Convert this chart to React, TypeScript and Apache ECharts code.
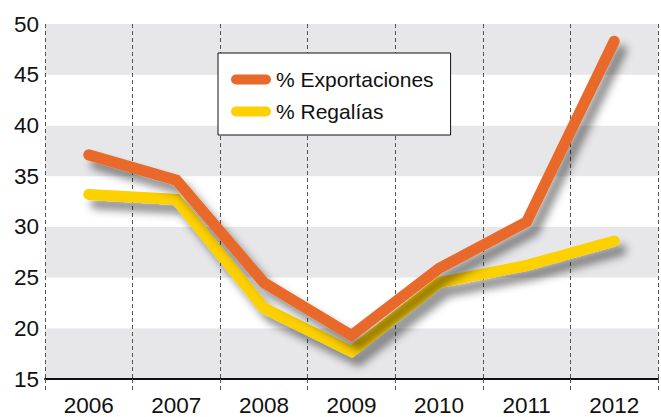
import React, { useEffect, useRef } from "react";
import * as echarts from "echarts";

const years = ["2006", "2007", "2008", "2009", "2010", "2011", "2012"];
const exportaciones = [37.1, 34.6, 24.5, 19.3, 25.9, 30.5, 48.3];
const regalias = [33.2, 32.7, 22.0, 17.7, 24.5, 26.2, 28.6];
const yTicks = { min: 15, max: 50, interval: 5 };

const FONT = "'Liberation Sans', Arial, Helvetica, sans-serif";
const capsule = "path://M5,0 H35 A5,5 0 0 1 35,10 H5 A5,5 0 0 1 5,0 Z";

export default function App() {
  const ref = useRef<HTMLDivElement>(null);
  useEffect(() => {
    if (!ref.current) return;
    const chart = echarts.init(ref.current, undefined, { renderer: "svg" });
    const shadow = {
      shadowColor: "rgba(0,0,0,0.45)",
      shadowBlur: 8,
      shadowOffsetX: 7,
      shadowOffsetY: 9,
    };
    chart.setOption({
      animation: false,
      backgroundColor: "#ffffff",
      grid: { left: 45, right: 3, top: 24, bottom: 38 },
      legend: {
        orient: "vertical",
        left: 218,
        top: 53,
        backgroundColor: "#ffffff",
        borderColor: "#111",
        borderWidth: 1,
        borderRadius: 0,
        padding: [16, 17, 13, 13],
        itemGap: 11,
        itemWidth: 40,
        itemHeight: 10,
        icon: capsule,
        textStyle: { fontFamily: FONT, fontSize: 21, color: "#111" },
        data: ["% Exportaciones", "% Regalías"],
      },
      xAxis: {
        type: "category",
        data: years,
        boundaryGap: true,
        axisLine: { lineStyle: { color: "#111", width: 2 } },
        axisTick: {
          show: true,
          length: 14,
          interval: 0,
          lineStyle: { color: "#555", type: [4, 3], width: 1 },
        },
        axisLabel: {
          fontFamily: FONT,
          fontSize: 22.5,
          color: "#111",
          margin: 15,
          interval: 0,
        },
        splitLine: {
          show: true,
          interval: 0,
          lineStyle: { color: "#555", type: [4, 3], width: 1 },
        },
      },
      yAxis: {
        type: "value",
        min: yTicks.min,
        max: yTicks.max,
        interval: yTicks.interval,
        axisLine: { show: false },
        axisTick: { show: false },
        axisLabel: {
          fontFamily: FONT,
          fontSize: 22.5,
          color: "#111",
          margin: 6,
        },
        splitLine: { show: false },
        splitArea: {
          show: true,
          areaStyle: { color: ["#e7e7e9", "#ffffff"] },
        },
      },
      series: [
        {
          name: "% Exportaciones",
          type: "line",
          data: exportaciones,
          showSymbol: false,
          symbol: "none",
          z: 3,
          itemStyle: { color: "#e8692a" },
          lineStyle: {
            color: "#e8692a",
            width: 11,
            cap: "round",
            join: "miter",
            ...shadow,
          },
        },
        {
          name: "% Regalías",
          type: "line",
          data: regalias,
          showSymbol: false,
          symbol: "none",
          z: 2,
          itemStyle: { color: "#fdd000" },
          lineStyle: {
            color: "#fdd000",
            width: 11,
            cap: "round",
            join: "miter",
            ...shadow,
          },
        },
      ],
    });
    return () => chart.dispose();
  }, []);
  return (
    <div
      ref={ref}
      style={{ position: "fixed", left: 0, top: 0, width: 661, height: 417 }}
    />
  );
}
